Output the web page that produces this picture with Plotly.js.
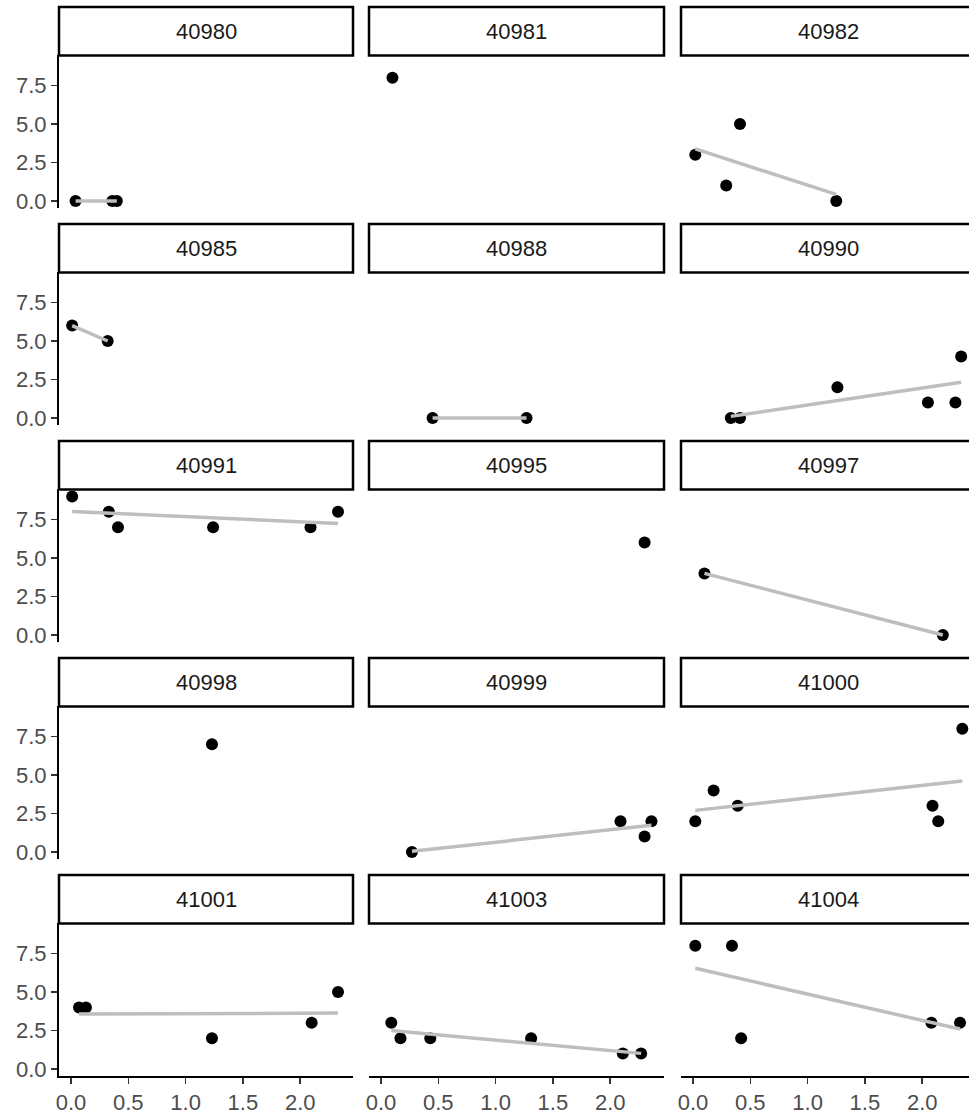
<!DOCTYPE html>
<html><head><meta charset="utf-8">
<script src="https://cdn.plot.ly/plotly-3.0.1.min.js"></script>
<style>html,body{margin:0;padding:0;background:#fff}#chart{width:969px;height:1115px}</style>
</head><body><div id="chart"></div>
<script>
// ---- data ----
const facetIds = ["40980","40981","40982","40985","40988","40990","40991","40995","40997","40998","40999","41000","41001","41003","41004"];
const x40980 = [0.04, 0.36, 0.40];             const y40980 = [0, 0, 0];
const x40981 = [0.10];                          const y40981 = [8];
const x40982 = [0.02, 0.29, 0.41, 1.25];        const y40982 = [3, 1, 5, 0];
const x40985 = [0.01, 0.32];                    const y40985 = [6, 5];
const x40988 = [0.45, 1.27];                    const y40988 = [0, 0];
const x40990 = [0.33, 0.41, 1.26, 2.05, 2.29, 2.34]; const y40990 = [0, 0, 2, 1, 1, 4];
const x40991 = [0.01, 0.33, 0.41, 1.24, 2.09, 2.33]; const y40991 = [9, 8, 7, 7, 7, 8];
const x40995 = [2.30];                          const y40995 = [6];
const x40997 = [0.10, 2.18];                    const y40997 = [4, 0];
const x40998 = [1.23];                          const y40998 = [7];
const x40999 = [0.27, 2.09, 2.30, 2.36];        const y40999 = [0, 2, 1, 2];
const x41000 = [0.02, 0.18, 0.39, 2.09, 2.14, 2.35]; const y41000 = [2, 4, 3, 3, 2, 8];
const x41001 = [0.07, 0.13, 1.23, 2.10, 2.33];  const y41001 = [4, 4, 2, 3, 5];
const x41003 = [0.09, 0.17, 0.43, 1.31, 2.11, 2.27]; const y41003 = [3, 2, 2, 2, 1, 1];
const x41004 = [0.02, 0.34, 0.42, 2.08, 2.33];  const y41004 = [8, 8, 2, 3, 3];

const xTickVals = [0, 0.5, 1, 1.5, 2];
const xTickText = ["0.0", "0.5", "1.0", "1.5", "2.0"];
const yTickVals = [0, 2.5, 5, 7.5];
const yTickText = ["0.0", "2.5", "5.0", "7.5"];

const xs = {"40980":x40980,"40981":x40981,"40982":x40982,"40985":x40985,"40988":x40988,"40990":x40990,"40991":x40991,"40995":x40995,"40997":x40997,"40998":x40998,"40999":x40999,"41000":x41000,"41001":x41001,"41003":x41003,"41004":x41004};
const ys = {"40980":y40980,"40981":y40981,"40982":y40982,"40985":y40985,"40988":y40988,"40990":y40990,"40991":y40991,"40995":y40995,"40997":y40997,"40998":y40998,"40999":y40999,"41000":y41000,"41001":y41001,"41003":y41003,"41004":y41004};

// ---- layout geometry ----
const W = 969, H = 1115;
const colL = [59, 369, 681], colR = [353, 664, 969], colRfull = [353, 664, 975];
const pxPerX = 114.6, pxPerY = 15.4;
const yRange = [-0.45, 9.45];
const FONT = "Liberation Sans, Arial, Helvetica, sans-serif";

function lmFit(x, y) {
  const n = x.length;
  const mx = x.reduce((a,b)=>a+b,0)/n, my = y.reduce((a,b)=>a+b,0)/n;
  let sxy = 0, sxx = 0;
  for (let i=0;i<n;i++){ sxy += (x[i]-mx)*(y[i]-my); sxx += (x[i]-mx)*(x[i]-mx); }
  const b = sxx === 0 ? 0 : sxy/sxx;
  const a = my - b*mx;
  const xmin = Math.min(...x), xmax = Math.max(...x);
  return {x:[xmin, xmax], y:[a+b*xmin, a+b*xmax]};
}

const traces = [];
const layout = {
  width: W, height: H, showlegend: false,
  margin: {l:0, r:0, t:0, b:0, pad:0},
  paper_bgcolor: "#fff", plot_bgcolor: "#fff",
  font: {family: FONT},
  shapes: [], annotations: []
};

facetIds.forEach((id, i) => {
  const r = Math.floor(i/3), c = i % 3;
  const n = i === 0 ? "" : String(i+1);
  const y0px = 201 + 217*r;
  const bottom = y0px + 0.45*pxPerY;
  const top = bottom - (yRange[1]-yRange[0])*pxPerY;
  const stripTop = top - 48.5;
  const isBottom = r === 4, isLeft = c === 0;

  layout["xaxis"+n] = {
    domain: [colL[c]/W, colR[c]/W],
    range: [-12/pxPerX, (colR[c]-colL[c]-12)/pxPerX],
    anchor: "y"+n,
    showgrid: false, zeroline: false,
    showline: isBottom, linecolor: "#000", linewidth: 2,
    ticks: isBottom ? "outside" : "", ticklen: 6, tickwidth: 1.5, tickcolor: "#333",
    showticklabels: isBottom,
    tickmode: "array", tickvals: xTickVals, ticktext: xTickText,
    tickfont: {family: FONT, size: 22, color: "#4D4D4D"},
    fixedrange: true
  };
  layout["yaxis"+n] = {
    domain: [1-bottom/H, 1-top/H],
    range: yRange,
    anchor: "x"+n,
    showgrid: false, zeroline: false,
    showline: isLeft, linecolor: "#000", linewidth: 2,
    ticks: isLeft ? "outside" : "", ticklen: 6, tickwidth: 1.5, tickcolor: "#333",
    showticklabels: isLeft,
    tickmode: "array", tickvals: yTickVals, ticktext: yTickText,
    tickfont: {family: FONT, size: 22, color: "#4D4D4D"},
    fixedrange: true
  };

  layout.shapes.push({
    type: "rect", xref: "paper", yref: "paper",
    x0: colL[c]/W, x1: colRfull[c]/W, y0: 1-top/H, y1: 1-stripTop/H,
    fillcolor: "#fff", line: {color: "#000", width: 2.5}, layer: "above"
  });
  layout.annotations.push({
    xref: "paper", yref: "paper",
    x: (colL[c]+colRfull[c])/2/W, y: 1-(top+stripTop)/2/H,
    xanchor: "center", yanchor: "middle",
    text: id, showarrow: false,
    font: {family: FONT, size: 22, color: "#1A1A1A"}
  });

  traces.push({
    type: "scatter", mode: "markers",
    x: xs[id], y: ys[id], xaxis: "x"+n, yaxis: "y"+n,
    marker: {color: "#000", size: 12}, cliponaxis: false, hoverinfo: "skip"
  });
  if (xs[id].length >= 2) {
    const f = lmFit(xs[id], ys[id]);
    traces.push({
      type: "scatter", mode: "lines",
      x: f.x, y: f.y, xaxis: "x"+n, yaxis: "y"+n,
      line: {color: "#BEBEBE", width: 3.5}, hoverinfo: "skip"
    });
  }
});

Plotly.newPlot("chart", traces, layout, {displayModeBar: false, staticPlot: true});
</script>
</body></html>
